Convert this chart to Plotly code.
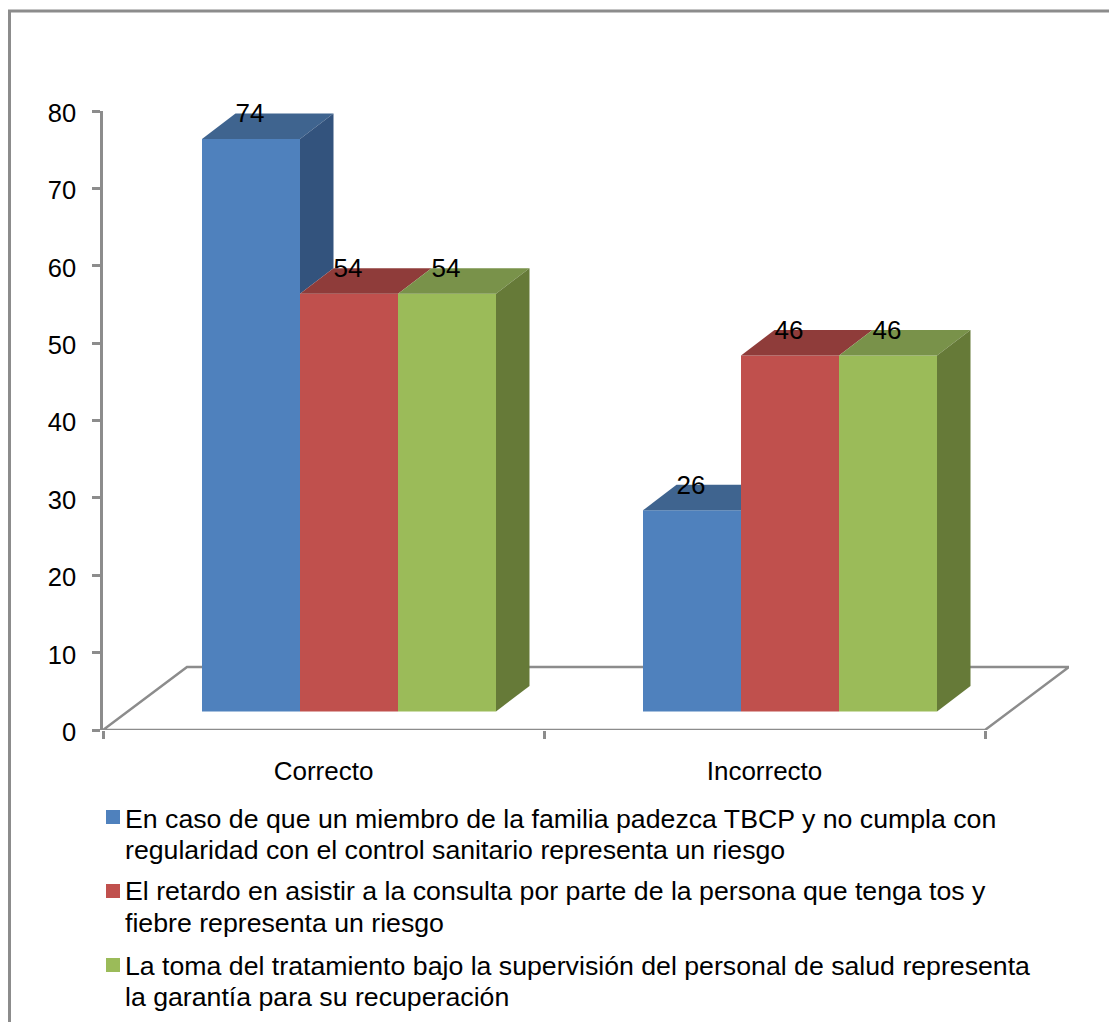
import plotly.graph_objects as go

# Data
categories = ["Correcto", "Incorrecto"]
series_names = [
    "En caso de que un miembro de la familia padezca TBCP y no cumpla con regularidad con el control sanitario representa un riesgo",
    "El retardo en asistir a la consulta por parte de la persona que tenga tos y fiebre representa un riesgo",
    "La toma del tratamiento bajo la supervisión del personal de salud representa la garantía para su recuperación",
]
legend_lines = [
    ["En caso de que un miembro de la familia padezca TBCP y no cumpla con",
     "regularidad con el control sanitario representa un riesgo"],
    ["El retardo en asistir a la consulta por parte de la persona que tenga tos y",
     "fiebre representa un riesgo"],
    ["La toma del tratamiento bajo la supervisión del personal de salud representa",
     "la garantía para su recuperación"],
]
series_values = [
    [74, 26],
    [54, 46],
    [54, 46],
]
y_ticks = [0, 10, 20, 30, 40, 50, 60, 70, 80]

# Colours: front, top and side face of each series
front_colors = ["#4F81BD", "#C0504D", "#9BBB59"]
top_colors = ["#3F648F", "#8F3C3A", "#79924A"]
side_colors = ["#33537D", "#7E3533", "#667A38"]
axis_color = "#8C8C8C"
font_family = "Liberation Sans, Arial, sans-serif"

# Page layout in pixels
W, H = 1109, 1022
left, right, top, bottom = 103, 40, 111, 292
plot_w, plot_h = W - left - right, H - top - bottom
px_per_x = 441.0
px_per_y = plot_h / 80.0
x_max = plot_w / px_per_x

# Pseudo-3D geometry expressed in axis units
bar_width = 98 / px_per_x
group_start = 99 / px_per_x
bar_base = 18.5 / px_per_y
depth_x = 33.5 / px_per_x
depth_y = 25.5 / px_per_y
floor_x = 84 / px_per_x
floor_y = 63 / px_per_y
label_drop = 2.5 / px_per_y


def page_x(px):
    return (px - left) / plot_w


def page_y(py):
    return (H - bottom - py) / plot_h


fig = go.Figure()

# Front faces
for i, name in enumerate(series_names):
    fig.add_trace(go.Bar(
        x=[c + group_start + (i + 0.5) * bar_width for c in range(len(categories))],
        y=series_values[i],
        base=bar_base,
        width=bar_width,
        name=name,
        marker=dict(color=front_colors[i], line=dict(width=0)),
        showlegend=False,
    ))


def add_face(xs, ys, color):
    fig.add_trace(go.Scatter(
        x=xs + xs[:1], y=ys + ys[:1], mode="lines", fill="toself",
        fillcolor=color, line=dict(width=0), hoverinfo="skip", showlegend=False,
    ))


# Top and side faces, trimmed where the neighbouring bar hides them
for i in range(len(series_values)):
    for c in range(len(categories)):
        v = series_values[i][c] + bar_base
        x0 = c + group_start + i * bar_width
        x1 = x0 + bar_width
        nxt = series_values[i + 1][c] + bar_base if i + 1 < len(series_values) else None
        top_right = x1 if (nxt is not None and nxt > v) else x1 + depth_x
        add_face([x0, x0 + depth_x, top_right, x1], [v, v + depth_y, v + depth_y, v], top_colors[i])
        low = bar_base if nxt is None else nxt
        if low < v:
            add_face([x1, x1 + depth_x, x1 + depth_x, x1],
                     [v, v + depth_y, low + depth_y, low], side_colors[i])

# Value labels sit on the back edge of each bar's top face
for i in range(len(series_values)):
    fig.add_trace(go.Scatter(
        x=[c + group_start + (i + 0.5) * bar_width - 1 / px_per_x for c in range(len(categories))],
        y=[v + bar_base + depth_y - label_drop for v in series_values[i]],
        text=[str(v) for v in series_values[i]],
        mode="text", textposition="middle center",
        textfont=dict(family=font_family, size=26, color="#000000"),
        hoverinfo="skip", showlegend=False, cliponaxis=False,
    ))

# Floor of the 3D box
floor_path = (
    f"M 0 0 L {floor_x} {floor_y} L {2 + floor_x} {floor_y} L 2 0 Z"
)
shapes = [
    dict(type="path", path=floor_path, xref="x", yref="y", layer="below",
         line=dict(color=axis_color, width=2.5)),
    # Outer frame, running off the right and bottom of the page
    dict(type="rect", xref="paper", yref="paper",
         x0=page_x(9.5), x1=page_x(W + 20), y0=page_y(H + 20), y1=page_y(11),
         line=dict(color=axis_color, width=3), fillcolor="rgba(0,0,0,0)", layer="below"),
]

# Legend drawn as swatches with two lines of text each
annotations = []
swatch_tops = [810, 884, 958]
line_centers = [(818.5, 850), (891.5, 922.5), (966, 997)]
for i, lines in enumerate(legend_lines):
    shapes.append(dict(
        type="rect", xref="paper", yref="paper",
        x0=page_x(106), x1=page_x(120),
        y0=page_y(swatch_tops[i] + 14), y1=page_y(swatch_tops[i]),
        fillcolor=front_colors[i], line=dict(width=0),
    ))
    for text, py in zip(lines, line_centers[i]):
        annotations.append(dict(
            text=text, xref="paper", yref="paper",
            x=page_x(123), y=page_y(py), xanchor="left", yanchor="middle",
            showarrow=False, align="left",
            font=dict(family=font_family, size=26.7, color="#000000"),
        ))

fig.update_layout(
    width=W, height=H,
    margin=dict(l=left, r=right, t=top, b=bottom, autoexpand=False),
    paper_bgcolor="#FFFFFF", plot_bgcolor="rgba(0,0,0,0)",
    barmode="overlay", showlegend=False,
    shapes=shapes, annotations=annotations,
    xaxis=dict(
        range=[0, x_max], showgrid=False, zeroline=False, showline=False,
        tickmode="array", tickvals=[c + 0.5 for c in range(len(categories))],
        ticktext=categories, ticks="", ticklabelstandoff=23,
        tickfont=dict(family=font_family, size=26, color="#000000"),
        minor=dict(tickmode="array", tickvals=[0, 1, 2], ticks="outside",
                   ticklen=8, tickwidth=2.5, tickcolor=axis_color, showgrid=False),
    ),
    yaxis=dict(
        range=[0, 80], tickmode="array", tickvals=y_ticks, showgrid=False,
        zeroline=False, showline=True, linecolor=axis_color, linewidth=2.5,
        ticks="outside", ticklen=8, tickwidth=2.5, tickcolor=axis_color,
        ticklabelstandoff=11, ticklabelshift=2,
        tickfont=dict(family=font_family, size=25.5, color="#000000"),
    ),
)

fig.write_html("out.html")
